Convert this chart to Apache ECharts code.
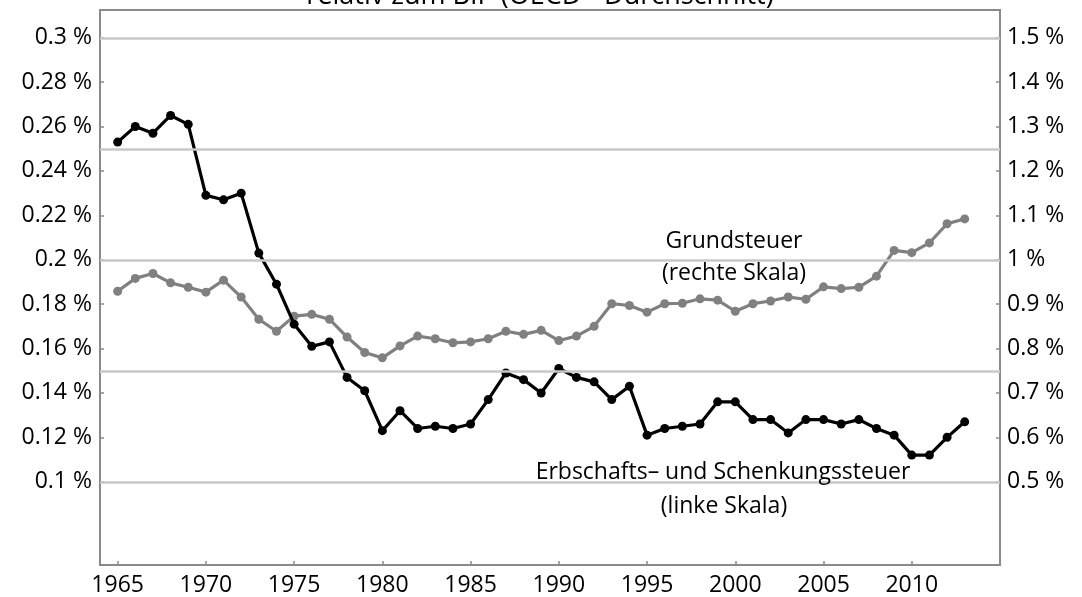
<!DOCTYPE html>
<html>
<head>
<meta charset="utf-8">
<script src="https://cdn.jsdelivr.net/npm/echarts@6/dist/echarts.min.js"></script>
<style>
  html, body { margin: 0; padding: 0; background: #fff; }
  #chart { width: 1082px; height: 597px; }
</style>
</head>
<body>
<div id="chart"></div>
<script>
// Years on the horizontal axis
const years = [1965, 1966, 1967, 1968, 1969, 1970, 1971, 1972, 1973, 1974,
  1975, 1976, 1977, 1978, 1979, 1980, 1981, 1982, 1983, 1984,
  1985, 1986, 1987, 1988, 1989, 1990, 1991, 1992, 1993, 1994,
  1995, 1996, 1997, 1998, 1999, 2000, 2001, 2002, 2003, 2004,
  2005, 2006, 2007, 2008, 2009, 2010, 2011, 2012, 2013];

// Erbschafts- und Schenkungssteuer, % of GDP (left scale)
const erbschaftsteuer = [0.253, 0.260, 0.257, 0.265, 0.261, 0.229, 0.227, 0.230, 0.203, 0.189,
  0.171, 0.161, 0.163, 0.147, 0.141, 0.123, 0.132, 0.124, 0.125, 0.124,
  0.126, 0.137, 0.149, 0.146, 0.140, 0.151, 0.147, 0.145, 0.137, 0.143,
  0.121, 0.124, 0.125, 0.126, 0.136, 0.136, 0.128, 0.128, 0.122, 0.128,
  0.128, 0.126, 0.128, 0.124, 0.121, 0.112, 0.112, 0.120, 0.127];

// Grundsteuer, % of GDP (right scale)
const grundsteuer = [0.929, 0.958, 0.969, 0.948, 0.938, 0.927, 0.954, 0.916, 0.866, 0.839,
  0.873, 0.877, 0.866, 0.826, 0.791, 0.779, 0.806, 0.828, 0.822, 0.813,
  0.815, 0.822, 0.839, 0.832, 0.841, 0.818, 0.828, 0.850, 0.901, 0.897,
  0.882, 0.901, 0.902, 0.912, 0.909, 0.884, 0.901, 0.907, 0.916, 0.911,
  0.939, 0.935, 0.938, 0.963, 1.021, 1.016, 1.038, 1.081, 1.092];

// Tick labels
const yearTicks = [1965, 1970, 1975, 1980, 1985, 1990, 1995, 2000, 2005, 2010];
const leftTicks = [0.1, 0.12, 0.14, 0.16, 0.18, 0.2, 0.22, 0.24, 0.26, 0.28, 0.3];
const rightTicks = [0.5, 0.6, 0.7, 0.8, 0.9, 1.0, 1.1, 1.2, 1.3, 1.4, 1.5];

// Horizontal reference lines (left scale)
const gridValues = [0.1, 0.15, 0.2, 0.25, 0.3];

const titleText = 'relativ zum BIP (OECD - Durchschnitt)';

const FONT = '"Open Sans", "Noto Sans", sans-serif';
const FS = 23;
const TEXT_COLOR = '#000';
const AXIS_COLOR = '#8a8a8a';
const fmtPct = v => Number(v.toFixed(2)).toString() + ' %';

const chart = echarts.init(document.getElementById('chart'), null, { renderer: 'canvas' });

const pairs = (xs, ys) => xs.map((x, i) => [x, ys[i]]);

const note = (text, x, y) => ({
  type: 'text', x: x, y: y, z: 10,
  style: { text: text, fontSize: FS, fontFamily: FONT, fill: TEXT_COLOR,
    align: 'center', verticalAlign: 'middle' }
});

chart.setOption({
  animation: false,
  backgroundColor: '#fff',
  textStyle: { fontFamily: FONT },
  grid: {
    left: 100, right: 82, top: 10, bottom: 31,
    show: true, borderColor: AXIS_COLOR, borderWidth: 2
  },
  xAxis: {
    type: 'value',
    min: 1964, max: 2015,
    axisLine: { show: true, lineStyle: { color: AXIS_COLOR, width: 2 } },
    axisTick: { show: true, inside: true, length: 4, customValues: yearTicks,
      lineStyle: { color: AXIS_COLOR, width: 1.5 } },
    axisLabel: { customValues: yearTicks, color: TEXT_COLOR, fontSize: FS, fontFamily: FONT,
      margin: 9, formatter: v => String(v) },
    splitLine: { show: false }
  },
  yAxis: [
    {
      type: 'value', position: 'left',
      min: 0.0625, max: 0.3125,
      axisLine: { show: true, lineStyle: { color: AXIS_COLOR, width: 2 } },
      axisTick: { show: true, inside: true, length: 4, customValues: leftTicks,
        lineStyle: { color: AXIS_COLOR, width: 1.5 } },
      axisLabel: { customValues: leftTicks, color: TEXT_COLOR, fontSize: FS, fontFamily: FONT,
        margin: 8, formatter: fmtPct },
      splitLine: { show: false }
    },
    {
      type: 'value', position: 'right',
      min: 0.3125, max: 1.5625,
      axisLine: { show: true, lineStyle: { color: AXIS_COLOR, width: 2 } },
      axisTick: { show: true, inside: true, length: 4, customValues: rightTicks,
        lineStyle: { color: AXIS_COLOR, width: 1.5 } },
      axisLabel: { customValues: rightTicks, color: TEXT_COLOR, fontSize: FS, fontFamily: FONT,
        margin: 7, formatter: fmtPct },
      splitLine: { show: false }
    }
  ],
  graphic: [
    {
      type: 'text', x: 540, y: -4, z: 10,
      style: { text: titleText, fontSize: 27, fontFamily: FONT, fill: TEXT_COLOR,
        align: 'center', verticalAlign: 'middle' }
    },
    note('Grundsteuer', 734, 241),
    note('(rechte Skala)', 734, 273),
    note('Erbschafts\u2013 und Schenkungssteuer', 723, 472),
    note('(linke Skala)', 724, 506)
  ],
  series: [
    {
      // reference lines only
      type: 'line', yAxisIndex: 0, data: [], z: 1, silent: true,
      markLine: {
        silent: true, symbol: 'none', animation: false,
        label: { show: false },
        lineStyle: { color: '#c8c8c8', width: 2.5, type: 'solid' },
        emphasis: { disabled: true },
        data: gridValues.map(v => ({ yAxis: v }))
      }
    },
    {
      name: 'Grundsteuer', type: 'line', yAxisIndex: 1, z: 3,
      data: pairs(years, grundsteuer),
      symbol: 'circle', symbolSize: 9, showSymbol: true,
      lineStyle: { color: '#808080', width: 3.2 },
      itemStyle: { color: '#808080' }
    },
    {
      name: 'Erbschafts- und Schenkungssteuer', type: 'line', yAxisIndex: 0, z: 4,
      data: pairs(years, erbschaftsteuer),
      symbol: 'circle', symbolSize: 9, showSymbol: true,
      lineStyle: { color: '#000', width: 3.2 },
      itemStyle: { color: '#000' }
    }
  ]
});
</script>
</body>
</html>
